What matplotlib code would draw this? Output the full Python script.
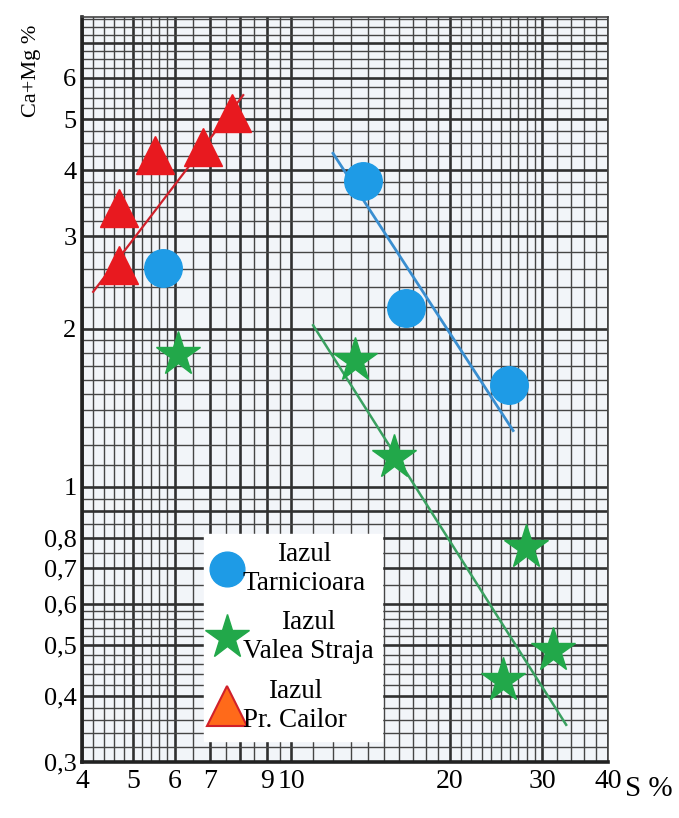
import numpy as np
import matplotlib.pyplot as plt
from matplotlib.lines import Line2D

# Iazul Pr. Cailor (red triangles)
cailor_s = [4.7, 4.7, 5.5, 6.8, 7.7]
cailor_cm = [2.64, 3.39, 4.28, 4.43, 5.14]
cailor_fit_s = [4.2, 8.1]
cailor_fit_cm = [2.35, 5.56]

# Iazul Tarnicioara (blue circles)
tarn_s = [5.7, 13.7, 16.5, 25.9]
tarn_cm = [2.61, 3.82, 2.19, 1.56]
tarn_fit_s = [12.0, 26.4]
tarn_fit_cm = [4.31, 1.28]

# Iazul Valea Straja (green stars)
straja_s = [6.1, 13.2, 15.7, 27.9, 25.3, 31.4]
straja_cm = [1.79, 1.74, 1.14, 0.77, 0.43, 0.49]
straja_fit_s = [11.0, 33.3]
straja_fit_cm = [2.03, 0.353]

x_ticks = [4, 5, 6, 7, 8, 9, 10, 20, 30, 40]
x_labels = ['4', '5', '6', '7', '', '9', '10', '20', '30', '40']
y_ticks = [0.3, 0.4, 0.5, 0.6, 0.7, 0.8, 0.9, 1, 2, 3, 4, 5, 6, 7]
y_labels = ['0,3', '0,4', '0,5', '0,6', '0,7', '0,8', '', '1', '2', '3', '4', '5', '6', '']

RED = '#e8191f'
BLUE = '#1e9be6'
GREEN = '#22a84a'
SERIF = 'Liberation Serif'

fig = plt.figure(figsize=(6.79, 8.18), dpi=100)
ax = fig.add_axes([0.1208, 0.0685, 0.7747, 0.9108])
ax.set_xscale('log')
ax.set_yscale('log')
ax.set_xlim(4, 40)
ax.set_ylim(0.3, 7.83)
ax.set_facecolor('#f2f5f9')

# graph paper grid
x_minor = np.concatenate([np.arange(4, 6, 0.2), np.arange(6, 10, 0.5),
                          np.arange(10, 30, 1), np.arange(30, 40, 2)])
y_minor = np.concatenate([np.arange(0.3, 0.6, 0.02), np.arange(0.6, 1, 0.05),
                          np.arange(1, 2, 0.1), np.arange(2, 4, 0.2),
                          np.arange(4, 8, 0.25)])
ax.set_xticks(x_ticks)
ax.set_xticklabels(x_labels)
ax.set_xticks(x_minor, minor=True)
ax.set_xticklabels([], minor=True)
ax.set_yticks(y_ticks)
ax.set_yticklabels(y_labels)
ax.set_yticks(y_minor, minor=True)
ax.set_yticklabels([], minor=True)
ax.grid(True, which='minor', color='#454545', lw=1.0)
ax.grid(True, which='major', color='#303030', lw=1.9)
ax.set_axisbelow(True)
ax.tick_params(which='both', length=0)
ax.tick_params(axis='x', pad=5)
ax.tick_params(axis='y', pad=4)
for t in ax.get_xticklabels():
    t.set_fontfamily(SERIF)
    t.set_fontsize(20)
for t in ax.get_yticklabels():
    t.set_fontfamily(SERIF)
    t.set_fontsize(19)
for side in ['left', 'bottom']:
    ax.spines[side].set_linewidth(2.6)
    ax.spines[side].set_color('#222222')
for side in ['top', 'right']:
    ax.spines[side].set_linewidth(1.2)
    ax.spines[side].set_color('#444444')

# trend lines
ax.plot(cailor_fit_s, cailor_fit_cm, color='#d0202a', lw=1.6, zorder=3)
ax.plot(tarn_fit_s, tarn_fit_cm, color='#3a8ed0', lw=2.0, zorder=3)
ax.plot(straja_fit_s, straja_fit_cm, color='#3aa060', lw=1.8, zorder=3)

# points
ax.plot(cailor_s, cailor_cm, '^', color=RED, ms=27, mec=RED, zorder=4)
ax.plot(tarn_s, tarn_cm, 'o', color=BLUE, ms=27, mec=BLUE, zorder=4)
ax.plot(straja_s, straja_cm, '*', color=GREEN, ms=33, mec=GREEN, zorder=4)

handles = [
    Line2D([], [], ls='none', marker='o', ms=25, color=BLUE, mec=BLUE),
    Line2D([], [], ls='none', marker='*', ms=33, color=GREEN, mec=GREEN),
    Line2D([], [], ls='none', marker='^', ms=29, color='#ff6a1a', mec='#d0202a', mew=1.5),
]
labels = ['Iazul\nTarnicioara', 'Iazul\nValea Straja', 'Iazul\nPr. Cailor']
leg = ax.legend(handles, labels, loc='lower left', bbox_to_anchor=(0.231, 0.028),
                frameon=True, facecolor='white', edgecolor='white', framealpha=1,
                fancybox=False, borderpad=0.3, handlelength=1.1, handletextpad=0.05,
                labelspacing=0.55, borderaxespad=0,
                prop={'family': SERIF, 'size': 19.5})
for t in leg.get_texts():
    t.set_multialignment('center')

fig.text(0.046, 0.913, 'Ca+Mg %', rotation=90, ha='center', va='center',
         family=SERIF, fontsize=16)
ax.text(1.078, -0.036, 'S %', transform=ax.transAxes, ha='center', va='center',
        family=SERIF, fontsize=21)

fig.savefig('out.png', dpi=100)
